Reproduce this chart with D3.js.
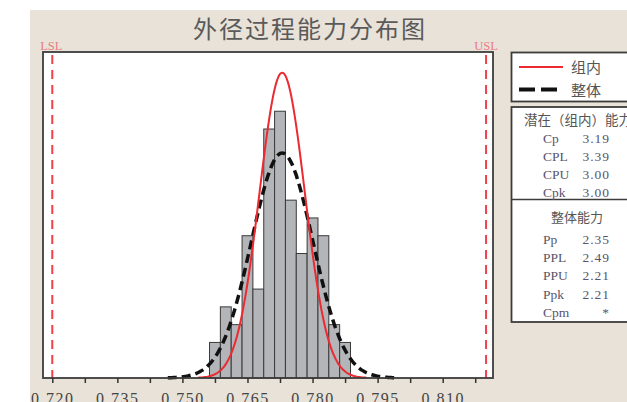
<!DOCTYPE html>
<html>
<head>
<meta charset="utf-8">
<script src="https://cdn.jsdelivr.net/npm/d3@7"></script>
<style>
  html, body { margin: 0; padding: 0; background: #fff; }
  #chart { width: 627px; height: 402px; }
  svg { display: block; }
</style>
</head>
<body>
<div id="chart"></div>
<script>
// histogram bins (left edges) and counts
const binStarts = [0.75625, 0.75875, 0.76125, 0.76375, 0.76625, 0.76875, 0.77125,
  0.77375, 0.77625, 0.77875, 0.78125, 0.78375, 0.78625];
const binCounts = [2, 4, 3, 8, 5, 14, 15, 10, 7, 9, 8, 3, 2];
const binWidth = 0.0025;

// spec limits and fitted parameters
const lsl = 0.72;
const usl = 0.82;
const mean = 0.773;
const sigmaWithin = 0.005225;
const sigmaOverall = 0.00709;

// axis ticks
const xTicks = [0.72, 0.7275, 0.735, 0.7425, 0.75, 0.7575, 0.765, 0.7725, 0.78,
  0.7875, 0.795, 0.8025, 0.81, 0.8175];
const xTickLabels = ["0.720", "0.735", "0.750", "0.765", "0.780", "0.795", "0.810"];

// capability tables
const withinLabels = ["Cp", "CPL", "CPU", "Cpk"];
const withinValues = ["3.19", "3.39", "3.00", "3.00"];
const overallLabels = ["Pp", "PPL", "PPU", "Ppk", "Cpm"];
const overallValues = ["2.35", "2.49", "2.21", "2.21", "*"];

const legendItems = ["组内", "整体"];
const title = "外径过程能力分布图";

class CapabilityChart {
  constructor(el) {
    this.el = el;
    this.width = 627;
    this.height = 402;
    this.setup();
    this.scaffold();
    this.render();
  }

  setup() {
    this.plot = { left: 43, right: 493, top: 52, bottom: 378 };
    this.x = d3.scaleLinear()
      .domain([0.71786, 0.8216])
      .range([this.plot.left, this.plot.right]);
    this.y = d3.scaleLinear()
      .domain([0, 18.33])
      .range([this.plot.bottom, this.plot.top]);
    this.line = d3.line()
      .x((d) => this.x(d[0]))
      .y((d) => this.y(d[1]))
      .curve(d3.curveBasis);
    this.n = d3.sum(binCounts);
  }

  scaffold() {
    this.svg = d3.select(this.el).append("svg")
      .attr("width", this.width)
      .attr("height", this.height)
      .attr("viewBox", [0, 0, this.width, this.height]);
    this.g = this.svg.append("g");
  }

  density(sigma) {
    // fitted normal curve scaled to counts, drawn over mean +/- 3.72 sigma
    const lo = mean - 3.72 * sigma;
    const hi = mean + 3.72 * sigma;
    const pdf = (v) => Math.exp(-0.5 * ((v - mean) / sigma) ** 2) / (sigma * Math.sqrt(2 * Math.PI));
    return d3.range(0, 121).map((i) => {
      const v = lo + ((hi - lo) * i) / 120;
      return [v, pdf(v) * this.n * binWidth];
    });
  }

  render() {
    this.renderBackground();
    this.renderBars();
    this.renderSpecLines();
    this.renderCurves();
    this.renderAxis();
    this.renderLegend();
    this.renderStats();
  }

  renderBackground() {
    this.g.append("rect")
      .attr("x", 30).attr("y", 10)
      .attr("width", this.width - 30).attr("height", this.height - 10)
      .attr("fill", "#e8e2d8");

    this.g.append("text")
      .attr("x", 310).attr("y", 38)
      .attr("text-anchor", "middle")
      .attr("font-family", "'Noto Sans CJK SC', sans-serif")
      .attr("font-size", 24)
      .attr("letter-spacing", 2)
      .attr("fill", "#5a5a5a")
      .text(title);

    this.g.append("rect")
      .attr("x", this.plot.left).attr("y", this.plot.top)
      .attr("width", this.plot.right - this.plot.left)
      .attr("height", this.plot.bottom - this.plot.top)
      .attr("fill", "#fff");
  }

  renderBars() {
    this.g.append("g")
      .selectAll("rect")
      .data(binStarts.map((s, i) => ({ x0: s, x1: s + binWidth, count: binCounts[i] })))
      .join("rect")
      .attr("x", (d) => this.x(d.x0))
      .attr("width", (d) => this.x(d.x1) - this.x(d.x0))
      .attr("y", (d) => this.y(d.count))
      .attr("height", (d) => this.y(0) - this.y(d.count))
      .attr("fill", "#b3b5b8")
      .attr("stroke", "#3a3a3a")
      .attr("stroke-width", 1);
  }

  renderSpecLines() {
    const specs = [{ v: lsl, label: "LSL" }, { v: usl, label: "USL" }];
    this.g.append("g")
      .selectAll("line")
      .data(specs)
      .join("line")
      .attr("x1", (d) => this.x(d.v)).attr("x2", (d) => this.x(d.v))
      .attr("y1", this.plot.top + 3).attr("y2", this.plot.bottom)
      .attr("stroke", "#f0404a")
      .attr("stroke-width", 2)
      .attr("stroke-dasharray", "9,6");

    this.g.append("g")
      .selectAll("text")
      .data(specs)
      .join("text")
      .attr("x", (d) => this.x(d.v) + (d.label === "LSL" ? -1 : 0))
      .attr("y", 50)
      .attr("text-anchor", "middle")
      .attr("font-family", "'Liberation Serif', serif")
      .attr("font-size", 12.5)
      .attr("fill", "#ec7a86")
      .text((d) => d.label);
  }

  renderCurves() {
    this.g.append("path")
      .datum(this.density(sigmaOverall))
      .attr("d", this.line)
      .attr("fill", "none")
      .attr("stroke", "#111")
      .attr("stroke-width", 3.5)
      .attr("stroke-dasharray", "9,5");

    this.g.append("path")
      .datum(this.density(sigmaWithin))
      .attr("d", this.line)
      .attr("fill", "none")
      .attr("stroke", "#ec2a32")
      .attr("stroke-width", 2);

    // plot frame on top
    this.g.append("rect")
      .attr("x", this.plot.left).attr("y", this.plot.top)
      .attr("width", this.plot.right - this.plot.left)
      .attr("height", this.plot.bottom - this.plot.top)
      .attr("fill", "none")
      .attr("stroke", "#3c3c3c")
      .attr("stroke-width", 1.8);
  }

  renderAxis() {
    this.g.append("g")
      .attr("transform", `translate(0,${this.plot.bottom})`)
      .call(
        d3.axisBottom(this.x)
          .tickValues(xTicks)
          .tickSize(5)
          .tickPadding(10)
          .tickFormat((d) => {
            const s = d3.format(".3f")(d);
            return xTickLabels.includes(s) ? s : "";
          })
      )
      .call((g) => g.select(".domain").remove())
      .call((g) => g.selectAll(".tick line").attr("stroke", "#333").attr("stroke-width", 1.5))
      .call((g) => g.selectAll(".tick text")
        .attr("font-family", "'Liberation Serif', serif")
        .attr("font-size", 16)
        .attr("letter-spacing", 1.5)
        .attr("fill", "#444"));
  }

  renderLegend() {
    const lg = this.g.append("g");
    lg.append("rect")
      .attr("x", 511.5).attr("y", 52.5)
      .attr("width", 130).attr("height", 49)
      .attr("fill", "#fff")
      .attr("stroke", "#3c3c3c")
      .attr("stroke-width", 1.8);

    const styles = [
      { stroke: "#ec2a32", width: 2, dash: null },
      { stroke: "#111", width: 4, dash: "16,6" },
    ];
    const rows = lg.selectAll(".legend-row")
      .data(legendItems)
      .join("g")
      .attr("class", "legend-row")
      .attr("transform", (d, i) => `translate(0,${67 + i * 22.5})`);
    rows.append("line")
      .attr("x1", 519).attr("x2", 563)
      .attr("stroke", (d, i) => styles[i].stroke)
      .attr("stroke-width", (d, i) => styles[i].width)
      .attr("stroke-dasharray", (d, i) => styles[i].dash);
    rows.append("text")
      .attr("x", 571).attr("y", 6)
      .attr("font-family", "'Noto Sans CJK SC', sans-serif")
      .attr("font-size", 15)
      .attr("fill", "#555")
      .text((d) => d);
  }

  renderStats() {
    const sg = this.g.append("g")
      .attr("font-family", "'Liberation Serif', 'Noto Sans CJK SC', serif")
      .attr("font-size", 13.5);

    sg.append("rect")
      .attr("x", 511.5).attr("y", 107)
      .attr("width", 130).attr("height", 215)
      .attr("fill", "#fff")
      .attr("stroke", "#3c3c3c")
      .attr("stroke-width", 1.8);
    sg.append("line")
      .attr("x1", 511.5).attr("x2", 641.5)
      .attr("y1", 199.5).attr("y2", 199.5)
      .attr("stroke", "#3c3c3c")
      .attr("stroke-width", 1.5);

    sg.append("text")
      .attr("x", 524).attr("y", 125)
      .attr("font-family", "'Noto Sans CJK SC', sans-serif")
      .attr("font-size", 13.5)
      .attr("fill", "#555")
      .text("潜在（组内）能力");
    sg.append("text")
      .attr("x", 577).attr("y", 221.5)
      .attr("text-anchor", "middle")
      .attr("font-family", "'Noto Sans CJK SC', sans-serif")
      .attr("font-size", 13)
      .attr("fill", "#555")
      .text("整体能力");

    const table = (labels, values, y0) => {
      const rows = sg.append("g")
        .selectAll("g")
        .data(labels.map((l, i) => [l, values[i]]))
        .join("g")
        .attr("transform", (d, i) => `translate(0,${y0 + i * 18.2})`)
        .attr("fill", "#58546a");
      rows.append("text").attr("x", 543).text((d) => d[0]);
      rows.append("text")
        .attr("x", 610)
        .attr("text-anchor", "end")
        .attr("letter-spacing", 1)
        .text((d) => d[1]);
    };
    table(withinLabels, withinValues, 142.5);
    table(overallLabels, overallValues, 244);
  }
}

new CapabilityChart(document.getElementById("chart"));
</script>
</body>
</html>
